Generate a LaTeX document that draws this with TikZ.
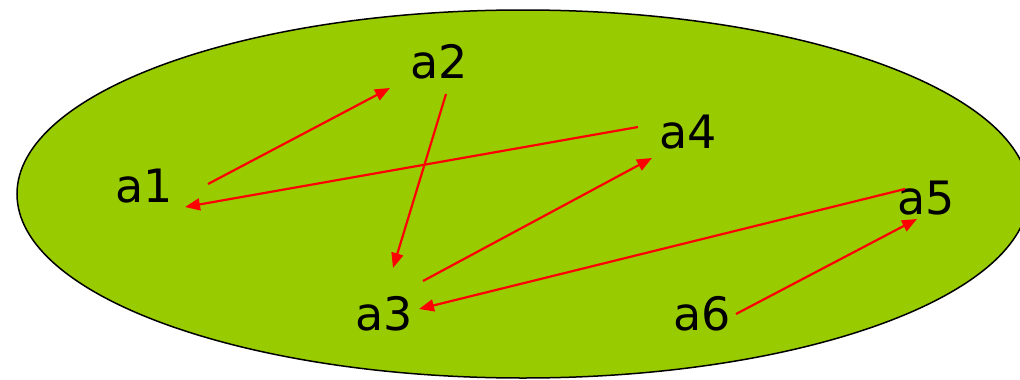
\documentclass[tikz,border=0pt]{standalone}
\usepackage{fontspec}
\setmainfont{DejaVu Sans}
\usetikzlibrary{arrows.meta}
\definecolor{blobgreen}{HTML}{99CC00}
\definecolor{arrred}{HTML}{FF0000}
\begin{document}
\begin{tikzpicture}[x=1pt,y=-1pt,
  lbl/.style={inner sep=0pt,font=\fontsize{46}{50}\selectfont},
  conn/.style={draw=arrred,line width=2.2pt,-{Triangle[length=15pt,width=12pt]}}]
\useasboundingbox (0,0) rectangle (1020,380);
\clip (0,0) rectangle (1020,380);
\draw[fill=blobgreen,line width=1.5pt] (523,194) ellipse [x radius=506, y radius=184];
\node[lbl] (a1) at (144,186) {a1};
\node[lbl] (a2) at (439,62) {a2};
\node[lbl] (a4) at (688,132) {a4};
\node[lbl] (a5) at (926,198) {a5};
\node[lbl] (a3) at (384,314) {a3};
\node[lbl] (a6) at (702,314) {a6};
% connector end points
\coordinate (s12) at (208,184); \coordinate (e12) at (390,88);
\coordinate (s23) at (446,94);  \coordinate (e23) at (393,268);
\coordinate (s41) at (638,127); \coordinate (e41) at (185,207);
\coordinate (s34) at (423,281); \coordinate (e34) at (652,158);
\coordinate (s53) at (905,189); \coordinate (e53) at (419,309);
\coordinate (s65) at (736,314); \coordinate (e65) at (917,219);
\draw[conn] (s12) -- (e12);
\draw[conn] (s23) -- (e23);
\draw[conn] (s41) -- (e41);
\draw[conn] (s34) -- (e34);
\draw[conn] (s53) -- (e53);
\draw[conn] (s65) -- (e65);
\end{tikzpicture}
\end{document}
